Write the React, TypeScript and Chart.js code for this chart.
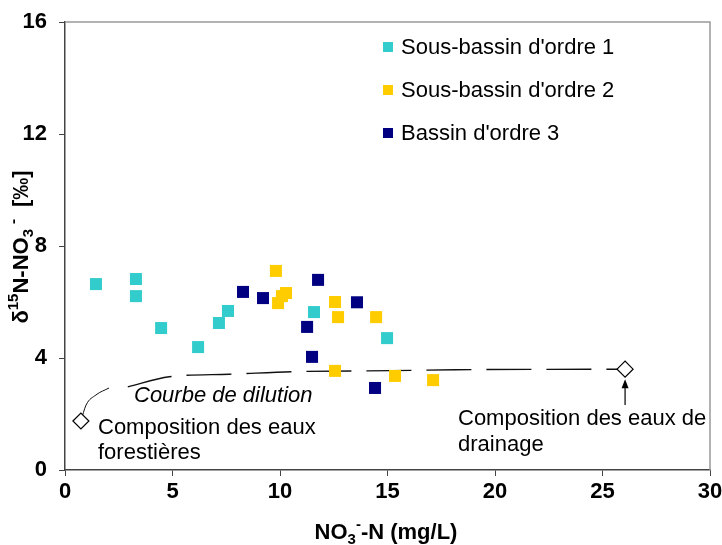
import React, { useEffect, useRef } from 'react';
import { Chart, registerables } from 'chart.js';

Chart.register(...registerables);

const FONT = "'Liberation Sans', Arial, Helvetica, sans-serif";

const SERIES_NAMES = ["Sous-bassin d'ordre 1", "Sous-bassin d'ordre 2", "Bassin d'ordre 3"];
const SERIES_COLORS = ['#33CCCC', '#FFCC00', '#000080'];

const s1X = [1.44, 3.3, 3.3, 4.47, 6.19, 7.16, 7.58, 11.58, 14.98];
const s1Y = [6.64, 6.82, 6.21, 5.07, 4.39, 5.25, 5.68, 5.64, 4.71];

const s2X = [9.81, 10.28, 10.09, 9.91, 12.56, 12.7, 14.47, 12.56, 15.35, 17.12];
const s2Y = [7.11, 6.32, 6.21, 5.96, 6.0, 5.46, 5.46, 3.54, 3.36, 3.21];

const s3X = [8.28, 9.21, 11.77, 13.58, 11.26, 11.49, 14.42];
const s3Y = [6.36, 6.14, 6.79, 5.99, 5.11, 4.04, 2.93];

// end-members (forest water, drainage water)
const endX = [0.74, 26.05];
const endY = [1.75, 3.6];

// thin leader from forest end-member to the dilution curve
const leaderX = [0.74, 0.98, 1.44, 2.05];
const leaderY = [1.75, 2.32, 2.68, 2.93];

// dilution curve
const curveX = [2.92, 4.85, 7.64, 10.59, 15.2, 18.14, 26.05];
const curveY = [2.97, 3.33, 3.42, 3.51, 3.55, 3.58, 3.6];

const X_TICKS = [0, 5, 10, 15, 20, 25, 30];
const Y_TICKS = [0, 4, 8, 12, 16];

const toPts = (xs: number[], ys: number[]) => xs.map((v, i) => ({ x: v, y: ys[i] }));

type Part = { t: string; s: number; gap?: number };

function drawRich(ctx: CanvasRenderingContext2D, parts: Part[], x: number, y: number, size: number) {
  const fontFor = (s: number) => `bold ${s === 0 ? size : Math.round(size * 0.66)}px ${FONT}`;
  let total = 0;
  for (const p of parts) {
    ctx.font = fontFor(p.s);
    total += ctx.measureText(p.t).width + (p.gap || 0);
  }
  let cx = x - total / 2;
  ctx.textBaseline = 'middle';
  ctx.textAlign = 'left';
  for (const p of parts) {
    ctx.font = fontFor(p.s);
    cx += p.gap || 0;
    const dy = p.s === 1 ? -size * 0.38 : p.s === -1 ? size * 0.3 : 0;
    ctx.fillText(p.t, cx, y + dy);
    cx += ctx.measureText(p.t).width;
  }
}

const overlay = {
  id: 'overlay',
  afterDraw(chart: any) {
    const { ctx, chartArea: a, scales } = chart;
    const xs = scales.x;
    const ys = scales.y;
    ctx.save();
    // frame top/right
    ctx.strokeStyle = '#999999';
    ctx.lineWidth = 1.5;
    ctx.beginPath();
    ctx.moveTo(a.left, a.top);
    ctx.lineTo(a.right, a.top);
    ctx.lineTo(a.right, a.bottom);
    ctx.stroke();

    // legend
    ctx.textAlign = 'left';
    ctx.textBaseline = 'middle';
    ctx.font = `22px ${FONT}`;
    const legY = [47, 90, 133];
    SERIES_NAMES.forEach((n, i) => {
      ctx.fillStyle = SERIES_COLORS[i];
      ctx.fillRect(383, legY[i] - 5, 10, 10);
      ctx.fillStyle = '#000';
      ctx.fillText(n, 401, legY[i] + 1);
    });

    // annotations
    ctx.fillStyle = '#000';
    ctx.font = `italic 22px ${FONT}`;
    ctx.fillText('Courbe de dilution', 134, 396);
    ctx.font = `22px ${FONT}`;
    ctx.fillText('Composition des eaux', 98, 428);
    ctx.fillText('forestières', 98, 453);
    ctx.fillText('Composition des eaux de', 458, 419);
    ctx.fillText('drainage', 458, 445);

    // arrow to drainage end-member
    const ax = xs.getPixelForValue(endX[1]);
    const tipY = ys.getPixelForValue(endY[1]) + 10;
    ctx.strokeStyle = '#000';
    ctx.lineWidth = 1.2;
    ctx.beginPath();
    ctx.moveTo(ax, 405);
    ctx.lineTo(ax, tipY + 6);
    ctx.stroke();
    ctx.beginPath();
    ctx.moveTo(ax, tipY);
    ctx.lineTo(ax - 3.5, tipY + 9);
    ctx.lineTo(ax + 3.5, tipY + 9);
    ctx.closePath();
    ctx.fill();

    // axis titles
    ctx.fillStyle = '#000';
    drawRich(ctx, [
      { t: 'NO', s: 0 }, { t: '3', s: -1 }, { t: '-', s: 1 }, { t: '-N (mg/L)', s: 0 },
    ], 386, 533, 22);

    ctx.save();
    ctx.translate(22, 247);
    ctx.rotate(-Math.PI / 2);
    drawRich(ctx, [
      { t: 'δ', s: 0 }, { t: '15', s: 1 }, { t: 'N-NO', s: 0 }, { t: '3', s: -1 },
      { t: '-', s: 1, gap: 5 }, { t: '[‰]', s: 0, gap: 12 },
    ], 0, 0, 22);
    ctx.restore();

    ctx.restore();
  },
};

export default function App() {
  const ref = useRef<HTMLCanvasElement | null>(null);

  useEffect(() => {
    document.body.style.margin = '0';
    const canvas = ref.current;
    if (!canvas) return;
    const sq = (data: any, color: string) => ({
      data,
      showLine: false,
      pointStyle: 'rect',
      pointRadius: 8.5,
      pointHoverRadius: 8.5,
      backgroundColor: color,
      borderColor: color,
      pointBorderWidth: 0,
    });
    const chart = new Chart(canvas, {
      type: 'scatter',
      data: {
        datasets: [
          {
            label: 'end',
            data: toPts(endX, endY),
            showLine: false,
            pointStyle: 'rectRot',
            pointRadius: 8,
            backgroundColor: '#ffffff',
            borderColor: '#000000',
            pointBorderWidth: 1.2,
          } as any,
          { label: SERIES_NAMES[0], ...sq(toPts(s1X, s1Y), SERIES_COLORS[0]) },
          { label: SERIES_NAMES[1], ...sq(toPts(s2X, s2Y), SERIES_COLORS[1]) },
          { label: SERIES_NAMES[2], ...sq(toPts(s3X, s3Y), SERIES_COLORS[2]) },
          {
            label: 'curve',
            data: toPts(curveX, curveY),
            showLine: true,
            pointRadius: 0,
            borderColor: '#111111',
            borderWidth: 1.4,
            borderDash: [45, 15],
            tension: 0.3,
            cubicInterpolationMode: 'monotone',
          } as any,
          {
            label: 'leader',
            data: toPts(leaderX, leaderY),
            showLine: true,
            pointRadius: 0,
            borderColor: '#111111',
            borderWidth: 1,
            tension: 0.4,
            cubicInterpolationMode: 'monotone',
          } as any,
        ],
      },
      options: {
        responsive: false,
        animation: false,
        devicePixelRatio: 1,
        layout: { padding: { top: 22, right: 12, left: 0, bottom: 0 } },
        plugins: { legend: { display: false }, tooltip: { enabled: false } },
        events: [],
        scales: {
          x: {
            type: 'linear',
            min: 0,
            max: 30,
            afterBuildTicks: (s: any) => { s.ticks = X_TICKS.map((v) => ({ value: v })); },
            afterFit: (s: any) => { s.height = 75; s.paddingLeft = 0; s.paddingRight = 0; },
            ticks: { color: '#000', font: { family: FONT, size: 22, weight: 'bold' }, padding: 3, maxRotation: 0 },
            grid: { display: true, drawOnChartArea: false, drawTicks: true, tickLength: 6, color: '#444' },
            border: { color: '#444', width: 1.5 },
          },
          y: {
            type: 'linear',
            min: 0,
            max: 16,
            afterBuildTicks: (s: any) => { s.ticks = Y_TICKS.map((v) => ({ value: v })); },
            afterFit: (s: any) => { s.width = 65; s.paddingTop = 0; s.paddingBottom = 0; },
            ticks: { color: '#000', font: { family: FONT, size: 22, weight: 'bold' }, padding: 12 },
            grid: { display: true, drawOnChartArea: false, drawTicks: true, tickLength: 6, color: '#444' },
            border: { color: '#444', width: 1.5 },
          },
        },
      },
      plugins: [overlay],
    } as any);
    return () => chart.destroy();
  }, []);

  return (
    <div style={{ width: 722, height: 545 }}>
      <canvas ref={ref} width={722} height={545} style={{ display: 'block', width: 722, height: 545 }} />
    </div>
  );
}
